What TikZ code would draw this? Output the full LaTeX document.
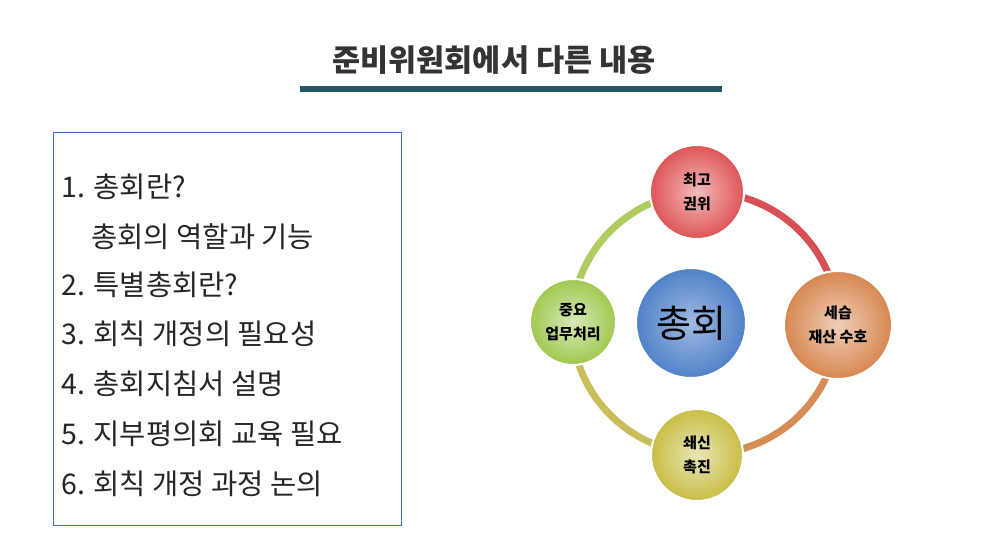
\documentclass[tikz,border=0pt]{standalone}
\usepackage{fontspec}
\setmainfont{Noto Sans CJK KR}
\begin{document}
\begin{tikzpicture}[x=1pt,y=-1pt,
  item/.style={anchor=west,font=\fontsize{28.5}{30}\selectfont,text=black!85},
  ball/.style={circle,draw=white,line width=2pt,font=\fontsize{15}{24}\selectfont\bfseries,align=center,text=black},
  ringarc/.style={line width=7pt}]
\useasboundingbox (0,0) rectangle (987,541);
\fill[white] (0,0) rectangle (987,541);
\node[font=\fontsize{30.5}{34}\selectfont\bfseries,text=black!80] (title) at (494,60) {준비위원회에서 다른 내용};
\coordinate (ul1) at (300,89); \coordinate (ul2) at (722,89);
\draw[line width=6pt,color={rgb,255:red,38;green,86;blue,100}] (ul1) -- (ul2);
\node[draw={rgb,255:red,68;green,114;blue,196},line width=1pt,minimum width=348,minimum height=393,anchor=north west] (box) at (53,132) {};
\node[item] (l1) at (58,187) {1. 총회란?};
\node[item] (l2) at (88,237) {총회의 역할과 기능};
\node[item] (l3) at (58,285) {2. 특별총회란?};
\node[item] (l4) at (58,334) {3. 회칙 개정의 필요성};
\node[item] (l5) at (58,384) {4. 총회지침서 설명};
\node[item] (l6) at (58,434) {5. 지부평의회 교육 필요};
\node[item] (l7) at (58,484) {6. 회칙 개정 과정 논의};
\coordinate (rc) at (705,323);
\draw[ringarc,color={rgb,255:red,214;green,80;blue,84}] (705,192) arc[start angle=90,end angle=0,x radius=133,y radius=-131];
\draw[ringarc,color={rgb,255:red,214;green,140;blue,84}] (838,323) arc[start angle=0,end angle=-90,x radius=133,y radius=-131];
\draw[ringarc,color={rgb,255:red,200;green,190;blue,90}] (705,454) arc[start angle=-90,end angle=-180,x radius=133,y radius=-131];
\draw[ringarc,color={rgb,255:red,175;green,205;blue,95}] (572,323) arc[start angle=180,end angle=90,x radius=133,y radius=-131];
\definecolor{cr}{RGB}{222,85,85}\definecolor{co}{RGB}{215,135,80}
\definecolor{cy}{RGB}{200,190,70}\definecolor{cg}{RGB}{160,200,80}\definecolor{cb}{RGB}{80,130,200}
\node[ball,minimum size=94,inner color=cr!40,outer color=cr] (top) at (697,192) {최고\\권위};
\node[ball,minimum size=108,inner color=co!40,outer color=co] (right) at (838,325) {세습\\재산 수호};
\node[ball,minimum size=92,inner color=cy!40,outer color=cy] (bot) at (697,455) {쇄신\\촉진};
\node[ball,minimum size=86,inner color=cg!40,outer color=cg] (left) at (573,322) {중요\\업무처리};
\node[ball,minimum size=110,inner color=cb!55,outer color=cb,font=\fontsize{38}{44}\selectfont] (center) at (691,323) {총회};
\end{tikzpicture}
\end{document}
